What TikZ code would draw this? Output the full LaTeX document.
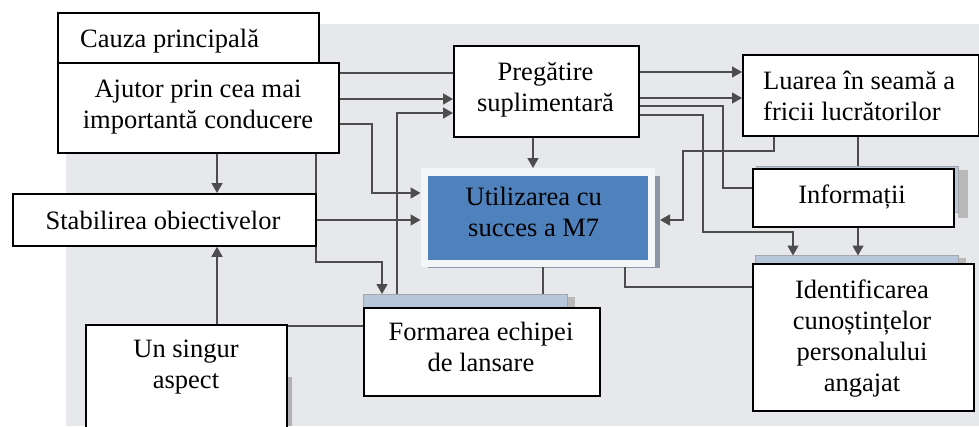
\documentclass[tikz,border=0pt]{standalone}
\usepackage{fontspec}
\setmainfont{Liberation Serif}
\usetikzlibrary{arrows.meta}
\pgfdeclarelayer{back}
\pgfdeclarelayer{wires}
\pgfsetlayers{back,wires,main}

\definecolor{scan}{HTML}{E6E8EC}
\definecolor{wire}{HTML}{4D4D4D}
\definecolor{goalblue}{HTML}{4F81BD}
\definecolor{goalframe}{HTML}{F4F5F7}
\definecolor{steel}{HTML}{B7C6D9}
\definecolor{shade}{HTML}{8B96A6}

\tikzset{
  box/.style={draw=black, line width=1.8pt, fill=white, inner sep=0pt, anchor=north west},
  lbl/.style={inner sep=0pt, align=center, font=\fontsize{26.5}{31}\selectfont},
  wireline/.style={draw=wire, line width=1.6pt},
  arrowline/.style={wireline, -{Triangle[length=10pt,width=11pt]}},
  backbar/.style={fill=steel, draw=gray!70, line width=0.8pt, inner sep=0pt, outer sep=0pt, anchor=north west},
  dropshade/.style={fill=gray!55},
}

\begin{document}
\begin{tikzpicture}[x=1pt,y=-1pt]
\useasboundingbox (0,0) rectangle (979,426);

% grey page behind the chart, with the layered plates
\begin{pgfonlayer}{back}
  \fill[scan] (66,24) rectangle (979,426);
  \node[fill=shade, inner sep=0pt, outer sep=0pt, minimum width=232pt, minimum height=92pt, anchor=north west] (goalShadow) at (428,176) {};
  \fill[dropshade] (567,297) rectangle (575,312);
  \node[backbar, minimum width=204pt, minimum height=13pt] (formBar) at (363,294) {};
  \fill[dropshade] (958,258) rectangle (966,268);
  \node[backbar, minimum width=203pt, minimum height=8pt] (identBar) at (755,255.5) {};
  \fill[dropshade] (958,170) rectangle (968,218);
  \node[backbar, minimum width=202pt, minimum height=46pt] (infoBack) at (756,166) {};
  \fill[gray!60] (287,377) rectangle (292,426);
\end{pgfonlayer}

% boxes
\node[box, minimum width=261pt, minimum height=50pt] (cauza) at (57,12) {};
\node[box, minimum width=281pt, minimum height=90pt] (ajutor) at (57,62) {};
\node[box, minimum width=303pt, minimum height=52pt] (stab) at (12,193) {};
\node[box, minimum width=201pt, minimum height=116pt] (single) at (85,324) {};
\node[box, minimum width=185pt, minimum height=91pt] (prep) at (453,45) {};
\node[box, minimum width=236pt, minimum height=81pt] (luarea) at (742,54) {};
\node[box, minimum width=201pt, minimum height=58pt] (info) at (752,168) {};
\node[box, minimum width=236pt, minimum height=88pt] (form) at (363,307) {};
\node[box, minimum width=221pt, minimum height=147pt] (ident) at (752,263) {};
\node[draw=goalframe, line width=7.5pt, fill=goalblue, inner sep=0pt, minimum width=227pt, minimum height=91.5pt, anchor=north west] (goal) at (420.5,168) {};

% labels
\node[lbl, anchor=base west] (tCauza) at (80,47) {Cauza principală};
\node[lbl] (tAjutor) at (198,107) {Ajutor prin cea mai\\importantă conducere};
\node[lbl, anchor=base] (tStab) at (163,229) {Stabilirea obiectivelor};
\node[lbl] (tSingle) at (186,367) {Un singur\\aspect};
\node[lbl] (tPrep) at (545.5,89.3) {Pregătire\\suplimentară};
\node[lbl, anchor=west, align=left] (tLuarea) at (763,95.7) {Luarea în seamă a\\fricii lucrătorilor};
\node[lbl, anchor=base] (tInfo) at (852,203) {Informații};
\node[lbl] (tGoal) at (533.7,212) {Utilizarea cu\\succes a M7};
\node[lbl] (tForm) at (481,347) {Formarea echipei\\de lansare};
\node[lbl] (tIdent) at (862,338.8) {Identificarea\\cunoștințelor\\personalului\\angajat};

% track positions for the connectors
\coordinate (h72) at (0,72);
\coordinate (h73) at (0,73);
\coordinate (h98) at (0,98);
\coordinate (h99) at (0,99);
\coordinate (h106) at (0,106);
\coordinate (h113) at (0,113);
\coordinate (h115) at (0,115);
\coordinate (h124) at (0,124);
\coordinate (h151) at (0,151);
\coordinate (h188) at (0,188);
\coordinate (h193) at (0,193);
\coordinate (h220) at (0,220);
\coordinate (h232) at (0,232);
\coordinate (h262) at (0,262);
\coordinate (h287) at (0,287);
\coordinate (h326) at (0,326);
\coordinate (v217) at (217,0);
\coordinate (v316) at (316,0);
\coordinate (v372) at (372,0);
\coordinate (v382) at (382,0);
\coordinate (v397) at (397,0);
\coordinate (v533) at (533,0);
\coordinate (v543) at (543,0);
\coordinate (v625) at (625,0);
\coordinate (v683) at (683,0);
\coordinate (v703) at (703,0);
\coordinate (v723) at (723,0);
\coordinate (v774) at (774,0);
\coordinate (v793) at (793,0);
\coordinate (v858) at (858,0);

% connectors
\begin{pgfonlayer}{wires}
  \draw[arrowline] (ajutor.south -| v217) -- (stab.north -| v217);
  \draw[arrowline] (single.north -| v217) -- (stab.south -| v217);
  \draw[arrowline] (ajutor.south -| v316) |- (v382 |- h262) -- (formBar.north -| v382);
  \draw[wireline] (ajutor.east |- h73) -- (prep.west |- h73);
  \draw[arrowline] (ajutor.east |- h99) -- (prep.west |- h99);
  \draw[arrowline] (formBar.north -| v397) |- (prep.west |- h113);
  \draw[arrowline] (ajutor.east |- h124) -| (v372 |- h193) -- (goal.west |- h193);
  \draw[arrowline] (stab.east |- h220) -- (goal.west |- h220);
  \draw[wireline] (single.east |- h326) -- (form.west |- h326);
  \draw[arrowline] (prep.south -| v533) -- (goal.north -| v533);
  \draw[arrowline] (prep.east |- h72) -- (luarea.west |- h72);
  \draw[arrowline] (prep.east |- h98) -- (luarea.west |- h98);
  \draw[wireline] (prep.east |- h106) -| (v723 |- h188) -- (info.west |- h188);
  \draw[arrowline] (prep.east |- h115) -| (v703 |- h232) -| (identBar.north -| v793);
  \draw[arrowline] (luarea.south -| v774) |- (v683 |- h151) |- (goalShadow.east |- h220);
  \draw[wireline] (luarea.south -| v858) -- (infoBack.north -| v858);
  \draw[arrowline] (info.south -| v858) -- (identBar.north -| v858);
  \draw[wireline] (goal.south -| v543) -- (formBar.north -| v543);
  \draw[wireline] (goal.south -| v625) |- (ident.west |- h287);
\end{pgfonlayer}
\end{tikzpicture}
\end{document}
